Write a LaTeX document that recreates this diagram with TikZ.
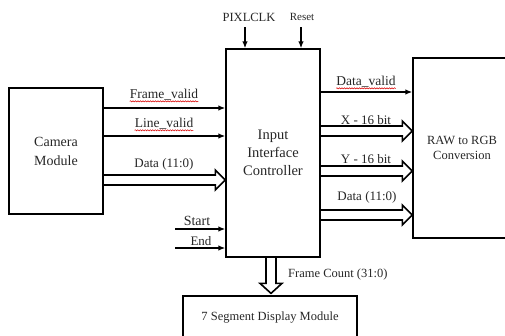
\documentclass[tikz,border=0pt]{standalone}
\usepackage{fontspec}
\setmainfont{Liberation Serif}
\usetikzlibrary{arrows.meta,calc,decorations.pathmorphing}
\newcommand{\fs}[2]{\fontsize{#1}{#2}\selectfont}
\newcommand{\hollowR}[2]{%
  \draw[hollow] ($(#1)+(0,-5)$) -- ($(#2)+(-10,-5)$) -- ($(#2)+(-10,-10)$) -- (#2)
    -- ($(#2)+(-10,10)$) -- ($(#2)+(-10,5)$) -- ($(#1)+(0,5)$);}
\begin{document}
\begin{tikzpicture}[x=1pt,y=-1pt,
  box/.style={draw,line width=1.3pt,inner sep=0pt,align=center,text=black!85},
  sig/.style={line width=1.7pt,-{Latex[length=7pt,width=5.5pt]}},
  hollow/.style={line width=1.6pt,line join=miter},
  lbl/.style={inner sep=0pt,text=black!85,font=\fs{13}{15}},
  squig/.style={red!85!black,line width=0.5pt,decorate,decoration={snake,amplitude=0.6pt,segment length=2.5pt}}]
\useasboundingbox (0,0) rectangle (505,335);
% boxes
\node[box,minimum width=94pt,minimum height=126pt,font=\fs{14}{19}] (cam) at (56,151) {Camera\\Module};
\node[box,minimum width=94pt,minimum height=208pt,font=\fs{14.5}{18}] (ctrl) at (273,153) {Input\\Interface\\Controller};
\node[box,minimum width=98pt,minimum height=180pt,font=\fs{12.5}{15.5}] (raw) at (462,148) {RAW to RGB\\Conversion};
\node[box,minimum width=174pt,minimum height=44pt,font=\fs{12.5}{15}] (seg) at (270,318) {7 Segment Display Module};
% top inputs
\coordinate (pk) at (245,27);
\coordinate (rs) at (301,27);
\draw[sig] (pk) -- (ctrl.north -| pk);
\draw[sig] (rs) -- (ctrl.north -| rs);
\node[lbl,font=\fs{12.5}{14}] (lpk) at (249,17) {PIXLCLK};
\node[lbl,font=\fs{11}{13}] (lrs) at (302,17) {Reset};
% left side
\draw[sig] (cam.east |- 0,108) -- (ctrl.west |- 0,108);
\draw[sig] (cam.east |- 0,136) -- (ctrl.west |- 0,136);
\coordinate (d1s) at (cam.east |- 0,180);
\coordinate (d1e) at (ctrl.west |- 0,180);
\hollowR{d1s}{d1e}
\node[lbl,font=\fs{13.5}{15}] (lfv) at (164,95) {Frame\_valid};
\node[lbl,font=\fs{13.5}{15}] (llv) at (164,124) {Line\_valid};
\node[lbl] (ld1) at (164,164) {Data (11:0)};
\draw[squig] ($(lfv.base west)+(0,2.5)$) -- ($(lfv.base east)+(0,2.5)$);
\draw[squig] ($(llv.base west)+(0,2.5)$) -- ($(llv.base east)+(0,2.5)$);
\coordinate (st) at (175,229);
\coordinate (en) at (175,248);
\draw[sig] (st) -- (ctrl.west |- st);
\draw[sig] (en) -- (ctrl.west |- en);
\node[lbl,font=\fs{14}{15}] (lst) at (197,221) {Start};
\node[lbl] (len) at (201,241) {End};
% right side
\draw[sig] (ctrl.east |- 0,92) -- (raw.west |- 0,92);
\coordinate (xs) at (ctrl.east |- 0,131);
\coordinate (xe) at (raw.west |- 0,131);
\hollowR{xs}{xe}
\coordinate (ys) at (ctrl.east |- 0,171);
\coordinate (ye) at (raw.west |- 0,171);
\hollowR{ys}{ye}
\coordinate (ds) at (ctrl.east |- 0,215);
\coordinate (de) at (raw.west |- 0,215);
\hollowR{ds}{de}
\node[lbl,font=\fs{13.5}{15}] (ldv) at (366,82) {Data\_valid};
\draw[squig] ($(ldv.base west)+(0,2.5)$) -- ($(ldv.base east)+(0,2.5)$);
\node[lbl] (lx) at (366,120) {X - 16 bit};
\node[lbl] (ly) at (366,159) {Y - 16 bit};
\node[lbl] (ld2) at (367,197) {Data (11:0)};
% frame count
\coordinate (fs) at (ctrl.south -| 271,0);
\coordinate (fe) at (seg.north -| 271,0);
\draw[hollow] ($(fs)+(-5,0)$) -- ($(fe)+(-5,-12)$) -- ($(fe)+(-11,-12)$) -- ($(fe)+(0,-2)$)
  -- ($(fe)+(11,-12)$) -- ($(fe)+(5,-12)$) -- ($(fs)+(5,0)$);
\node[lbl,font=\fs{12.5}{14},anchor=west] (lfc) at (288,274) {Frame Count (31:0)};
\end{tikzpicture}
\end{document}
